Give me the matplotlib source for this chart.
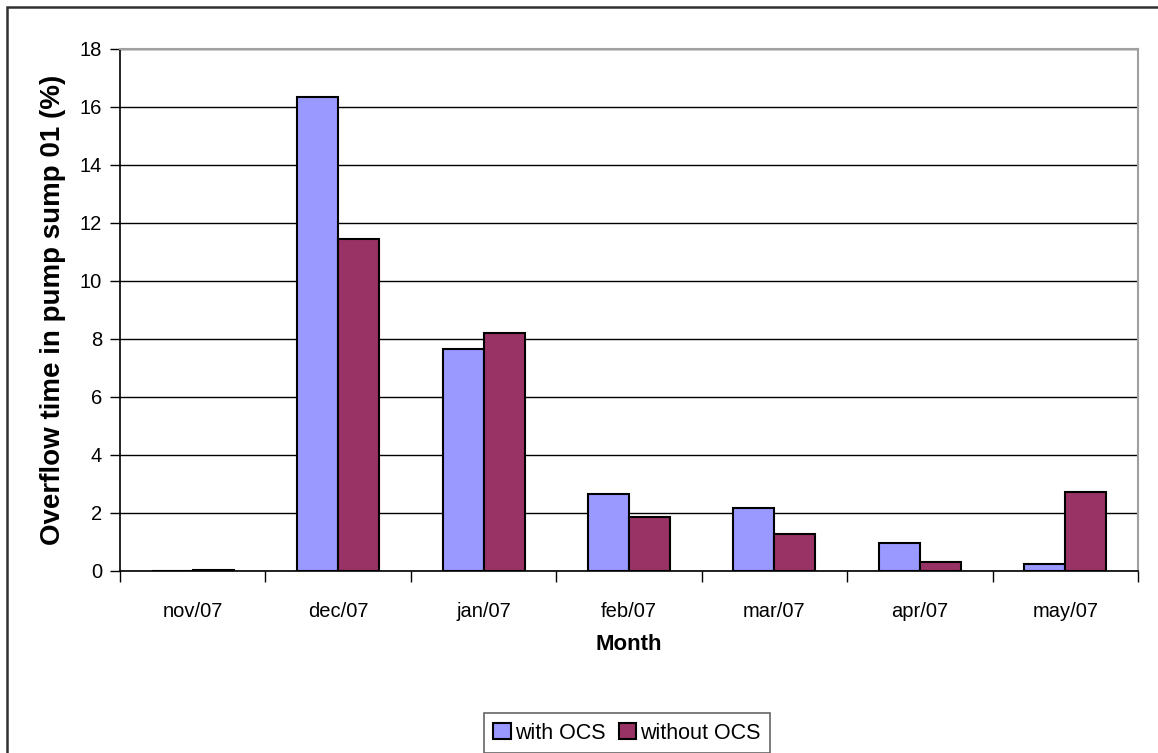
import matplotlib
matplotlib.use("Agg")
import matplotlib.pyplot as plt
import matplotlib.patches as patches
import numpy as np

plt.rcParams['font.family'] = ['Liberation Sans', 'DejaVu Sans']

# monthly overflow share (%) in pump sump 01
months = ["nov/07", "dec/07", "jan/07", "feb/07", "mar/07", "apr/07", "may/07"]
with_ocs = [0.0, 16.36, 7.65, 2.65, 2.17, 0.98, 0.23]
without_ocs = [0.05, 11.45, 8.2, 1.86, 1.27, 0.30, 2.71]

W, H = 1158, 753
fig = plt.figure(figsize=(W / 100, H / 100), dpi=100)
ax = fig.add_axes([120 / W, 1 - 571 / H, (1138 - 120) / W, (571 - 49) / H])

x = np.arange(len(months))
bw = 0.282
ax.bar(x - bw, with_ocs, width=bw, align='edge', color='#9999FF',
       edgecolor='black', linewidth=1.5, label='with OCS', zorder=3)
ax.bar(x, without_ocs, width=bw, align='edge', color='#993366',
       edgecolor='black', linewidth=1.5, label='without OCS', zorder=3)

ax.set_xlim(-0.5, len(months) - 0.5)
ax.set_ylim(0, 18)
ax.set_yticks(np.arange(0, 19, 2))
ax.yaxis.grid(True, color='black', linewidth=1)
ax.set_axisbelow(True)

# category labels in the middle, tick marks on the boundaries
ax.set_xticks(x)
ax.set_xticklabels(months, fontsize=14.5)
ax.tick_params(axis='x', which='major', length=0, pad=22)
ax.set_xticks(np.arange(-0.5, len(months)), minor=True)
ax.tick_params(axis='x', which='minor', length=8, width=1, direction='out')
ax.tick_params(axis='y', labelsize=14.5, length=7, width=1, direction='out', pad=6)

for s in ['left', 'bottom']:
    ax.spines[s].set_color('black')
    ax.spines[s].set_linewidth(1.2)
for s in ['top', 'right']:
    ax.spines[s].set_color('#a0a0a0')
    ax.spines[s].set_linewidth(1.5)

ax.set_xlabel("Month", fontsize=16, fontweight='bold', labelpad=10)
ax.set_ylabel("Overflow time in pump sump 01 (%)", fontsize=20, fontweight='bold', labelpad=10)

leg = fig.legend(loc='upper center', bbox_to_anchor=(627 / W, 1 - 713 / H), ncol=2,
                 fontsize=15.5, frameon=True, fancybox=False, handlelength=0.8,
                 handleheight=0.8, handletextpad=0.2, columnspacing=0.6,
                 borderpad=0.45, borderaxespad=0)
leg.get_frame().set_edgecolor('#404040')
leg.get_frame().set_linewidth(1.2)

# outer chart frame
fig.patches.append(patches.Rectangle((7 / W, -0.1), 1.1, 1 - 7 / H + 0.1,
                                     transform=fig.transFigure, fill=False,
                                     edgecolor='#303030', linewidth=1.8))

fig.savefig("out.png", dpi=100)
